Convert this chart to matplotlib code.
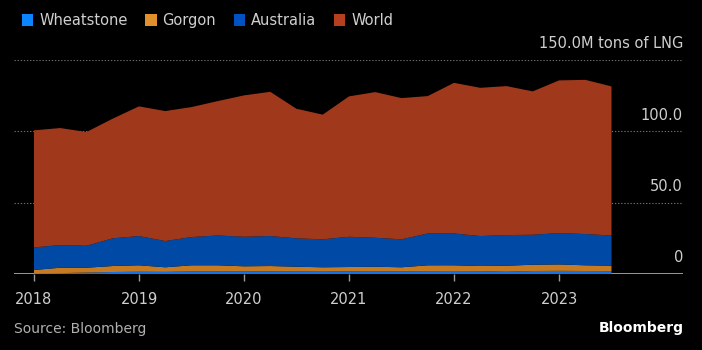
import matplotlib
matplotlib.use('Agg')
import matplotlib.pyplot as plt
import matplotlib.transforms as mtransforms
from matplotlib.patches import Patch
import numpy as np

plt.rcParams['font.family'] = ['Liberation Sans Narrow', 'DejaVu Sans']

# quarterly, 2018 Q1 .. 2023 Q3 (million tons of LNG, layer thickness)
quarters = [2018 + k / 4 for k in range(23)]
wheatstone = [0.4, 0.6, 1.0, 1.4, 1.6, 1.5, 1.8, 1.9, 1.8, 1.9, 1.8, 1.7,
              1.9, 2.0, 1.8, 2.0, 2.1, 2.0, 1.6, 2.1, 2.2, 2.1, 2.0]
gorgon = [2.4, 3.8, 3.4, 4.2, 4.5, 3.2, 4.3, 4.2, 3.6, 3.7, 3.3, 3.0,
          3.0, 3.1, 2.9, 4.1, 4.0, 3.6, 4.2, 4.4, 4.5, 4.0, 3.8]
australia = [15.8, 15.9, 15.4, 19.4, 20.5, 18.4, 19.8, 20.9, 20.7, 21.0, 19.9, 19.6,
             21.2, 20.3, 19.6, 22.3, 22.3, 21.0, 21.5, 21.0, 22.0, 21.9, 21.2]
world = [82.1, 82.0, 79.7, 83.9, 90.9, 91.1, 91.1, 94.2, 99.1, 101.1, 90.8, 87.4,
         98.4, 102.1, 99.0, 96.3, 105.6, 103.9, 104.4, 100.5, 107.0, 108.1, 104.5]
series_names = ['Wheatstone', 'Gorgon', 'Australia', 'World']
year_ticks = [2018, 2019, 2020, 2021, 2022, 2023]
y_ticks = [0, 50, 100, 150]
y_labels = ['0', '50.0', '100.0', '150.0M tons of LNG']

area_colors = ['#1273ea', '#c67a22', '#004aa6', '#a0391c']
legend_colors = ['#0a84ff', '#e0912c', '#0052c2', '#b5401f']
text_color = '#cfcfcf'

fig = plt.figure(figsize=(7.02, 3.5), dpi=100, facecolor='black')
ax = fig.add_axes([14 / 702, 1 - 274 / 350, (683 - 14) / 702, 214 / 350])
ax.set_facecolor('black')

ax.stackplot(quarters, wheatstone, gorgon, australia, world,
             colors=area_colors, linewidth=0, zorder=2)

ax.set_xlim(2018 - 20 / 105, 2018 + 649 / 105)
ax.set_ylim(0, 150)

# dotted gridlines + labels on the right, above the lines
trans = mtransforms.blended_transform_factory(ax.transAxes, ax.transData)
for v, lab in zip(y_ticks, y_labels):
    if v > 0:
        ax.axhline(v, color='#6e6e6e', lw=0.8, ls=(0, (1.2, 1.6)), zorder=1)
    ax.text(1.0, v + 6, lab, transform=trans, ha='right', va='bottom',
            color=text_color, fontsize=10.5)
ax.axhline(0, color='#9a9a9a', lw=1.4, zorder=1)

for s in ax.spines.values():
    s.set_visible(False)
ax.set_yticks([])
ax.set_xticks(year_ticks)
ax.set_xticklabels([str(y) for y in year_ticks], color=text_color, fontsize=10.5)
ax.tick_params(axis='x', colors='#9a9a9a', length=5, width=1, pad=8,
               labelcolor=text_color)

handles = [Patch(facecolor=c, edgecolor='none') for c in legend_colors]
fig.legend(handles, series_names, loc='upper left', bbox_to_anchor=(0.012, 1.0),
           ncol=4, frameon=False, fontsize=10.5, labelcolor=text_color,
           handlelength=0.8, handleheight=0.8, handletextpad=0.4,
           columnspacing=1.2)

fig.text(14 / 702, 1 - 329 / 350, 'Source: Bloomberg', color='#b0b0b0',
         fontsize=10, va='center', ha='left')
fig.text(684 / 702, 1 - 328 / 350, 'Bloomberg', color='white',
         fontsize=10, fontweight='bold', va='center', ha='right')

fig.savefig('out.png', dpi=100, facecolor='black')
